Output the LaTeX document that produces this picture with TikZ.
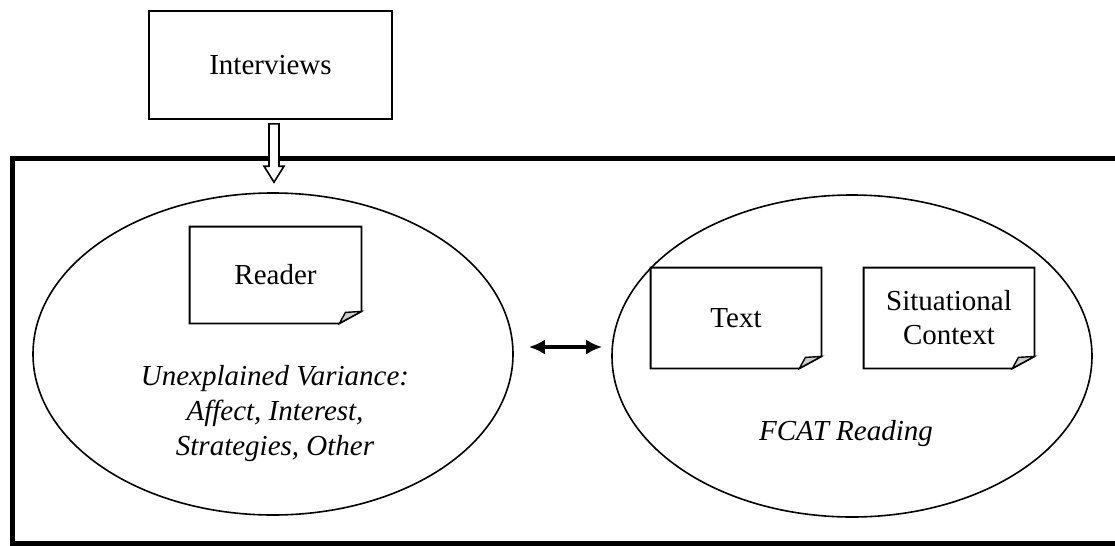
\documentclass[tikz,border=0pt]{standalone}
\usepackage{fontspec}
\setmainfont{Liberation Serif}
\usepackage{tikz}
\usetikzlibrary{arrows.meta,positioning,shapes.geometric,calc}
\tikzset{box/.style={rectangle,draw=black,line width=0.9pt,minimum width=121.5pt,minimum height=54pt,inner sep=0pt}}
\tikzset{oval/.style={ellipse,draw=black,line width=0.8pt,minimum width=240pt,minimum height=161pt,inner sep=0pt}}
\tikzset{docpage/.style={rectangle,minimum width=85.5pt,minimum height=48pt,inner sep=0pt,align=center}}
\tikzset{pageline/.style={draw=black,line width=0.9pt,line join=miter}}
\tikzset{note/.style={font=\fontsize{14.5}{17.5}\selectfont\itshape,align=center,inner sep=0pt}}

\begin{document}
\begin{tikzpicture}[x=0.5pt,y=-0.5pt,font=\fontsize{14.5}{17}\selectfont]
  \useasboundingbox (0,0) rectangle (1115,546);
  % frame round the two ovals, cut at the right
  \draw[line width=2.5pt] (1125,158) -- (12,158) -- (12,543) -- (1125,543);

  \node[box] (interviews) at (270.5,65) {Interviews};

  \node[oval] (readeroval) at (273,354) {};
  \node[oval] (fcatoval) at (852,356) {};

  \node[docpage] (reader) at (275.5,275) {Reader};
  \node[docpage,minimum width=85pt,minimum height=50pt] (text) at (736,318) {Text};
  \node[docpage,minimum width=85pt,minimum height=50pt] (context) at (949,318) {Situational\\Context};

  \foreach \p in {reader,text,context} {
    \draw[pageline] (\p.north west) -- (\p.north east) -- ($(\p.south east)+(0,-12)$)
      -- ($(\p.south east)+(-22,0)$) -- (\p.south west) -- cycle;
    \draw[pageline,line width=0.7pt,fill=black!20] ($(\p.south east)+(-22,0)$) -- ($(\p.south east)+(-16,-11)$)
      -- ($(\p.south east)+(0,-12)$) -- cycle;
  }

  \node[note] (unexplained) at (275,414) {Unexplained Variance:\\Affect, Interest,\\Strategies, Other};
  \node[note,anchor=base] (fcat) at (846,440) {FCAT Reading};

  % hollow arrow from the interviews into the reader oval
  \coordinate (sa) at ($(interviews.south -| readeroval.north)+(1,4)$);
  \coordinate (sb) at ($(readeroval.north)+(1,-10)$);
  \draw[line width=0.8pt,fill=white,line join=miter] ($(sa)+(-5,0)$) -- ($(sb)+(-5,-16)$) -- ($(sb)+(-10,-16)$) -- (sb)
    -- ($(sb)+(10,-16)$) -- ($(sb)+(5,-16)$) -- ($(sa)+(5,0)$) -- cycle;

  \draw[{Latex[length=8pt,width=7.5pt]}-{Latex[length=8pt,width=7.5pt]},line width=1.8pt]
    ([shift={(15,-7)}]readeroval.east) -- ([shift={(-9,-9)}]fcatoval.west);
\end{tikzpicture}
\end{document}
